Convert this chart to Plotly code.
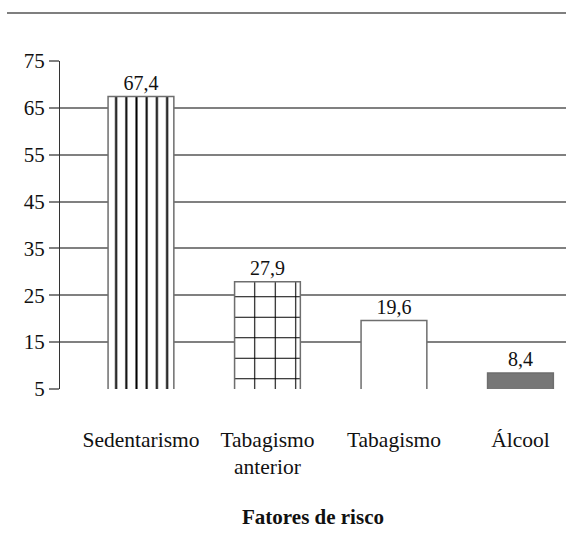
import plotly.graph_objects as go

# Risk factors and their percentages
categories = ["Sedentarismo", "Tabagismo<br>anterior", "Tabagismo", "Álcool"]
values = [67.4, 27.9, 19.6, 8.4]
y_ticks = [5, 15, 25, 35, 45, 55, 65, 75]

labels = [f"{v:.1f}".replace(".", ",") for v in values]

# Per-bar styling: fill colour and hatch pattern
fill_colors = ["white", "white", "white", "#777777"]
pattern_shapes = ["|", "+", "", ""]
pattern_sizes = [10.2, 20.5, 8, 8]
pattern_solidity = [0.2, 0.1, 0.2, 0.2]

serif = "Liberation Serif, DejaVu Serif, serif"

fig = go.Figure()
for i, cat in enumerate(categories):
    pattern = dict(
        shape=pattern_shapes[i],
        size=pattern_sizes[i],
        solidity=pattern_solidity[i],
        fgcolor="#000000",
        fgopacity=1,
        bgcolor=fill_colors[i],
        fillmode="overlay",
    ) if pattern_shapes[i] else dict(shape="")
    fig.add_trace(
        go.Bar(
            x=[cat],
            y=[values[i]],
            width=0.52,
            text=[labels[i]],
            textposition="outside",
            textfont=dict(family=serif, size=20, color="#111"),
            cliponaxis=False,
            marker=dict(
                color=fill_colors[i],
                line=dict(color="#6e6e6e", width=1.5),
                pattern=pattern,
            ),
            showlegend=False,
        )
    )

fig.update_layout(
    width=566,
    height=537,
    margin=dict(l=60, r=0, t=61, b=148),
    paper_bgcolor="white",
    plot_bgcolor="white",
    font=dict(family=serif, size=20, color="#111"),
    barmode="overlay",
    shapes=[
        dict(
            type="line", xref="paper", yref="paper",
            x0=-53 / 506, x1=1, y0=1 + 48 / 328, y1=1 + 48 / 328,
            line=dict(color="#555", width=1.5),
        )
    ],
)

fig.update_xaxes(
    range=[-0.64, 3.36],
    showgrid=False,
    showline=False,
    ticks="",
    ticklabelstandoff=35,
    tickfont=dict(family=serif, size=21.5, color="#111"),
    title=dict(
        text="<b>Fatores de risco</b>",
        font=dict(family=serif, size=21, color="#111"),
        standoff=30,
    ),
)

fig.update_yaxes(
    range=[5, 75],
    tickvals=y_ticks,
    ticktext=[str(t) for t in y_ticks],
    showgrid=True,
    gridcolor="#808080",
    gridwidth=1.5,
    showline=True,
    linecolor="#333",
    linewidth=1.2,
    ticks="outside",
    ticklen=10,
    tickcolor="#808080",
    tickwidth=1.5,
    tickfont=dict(family=serif, size=21, color="#111"),
    zeroline=False,
)

fig.write_html("out.html")
